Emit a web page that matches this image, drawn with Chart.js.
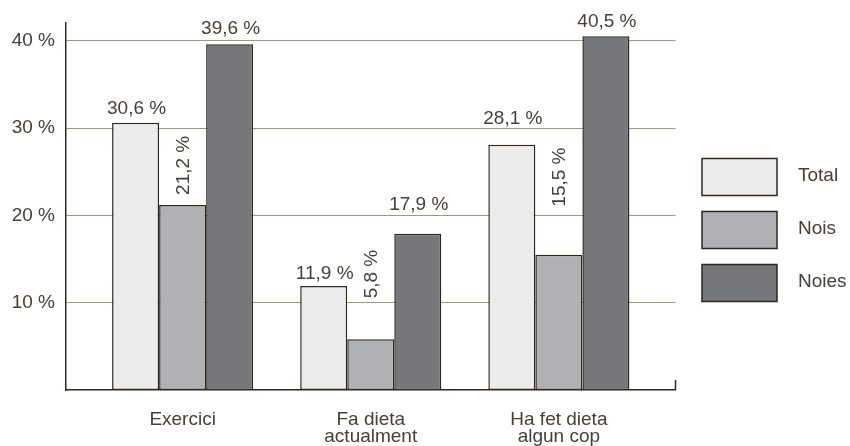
<!DOCTYPE html>
<html>
<head>
<meta charset="utf-8">
<script src="https://cdn.jsdelivr.net/npm/chart.js@4"></script>
<style>
  html, body { margin: 0; padding: 0; background: #fff; }
  #wrap { width: 850px; height: 446px; }
</style>
</head>
<body>
<div id="wrap"><canvas id="myChart" width="850" height="446"></canvas></div>
<script>
var categories = [['Exercici'], ['Fa dieta', 'actualment'], ['Ha fet dieta', 'algun cop']];
var seriesNames = ['Total', 'Nois', 'Noies'];
var total = [30.6, 11.9, 28.1];
var nois = [21.2, 5.8, 15.5];
var noies = [39.6, 17.9, 40.5];
var yTicks = [10, 20, 30, 40];

var color = {
    light: '#ececec',
    mid: '#b0b1b4',
    dark: '#76777a',
    edge: '#2f271d',
    text: '#45403a',
    grid: '#a1977f'
};
var fontFamily = '"Liberation Sans", Arial, sans-serif';

function pct(v) {
    return v.toFixed(1).replace('.', ',') + ' %';
}

function points(values) {
    return values.map(function (v, i) { return { x: i, y: v }; });
}

// value labels above the bars (Nois written vertically), gaps in px
var valueLabels = {
    id: 'valueLabels',
    afterDatasetsDraw: function (chart, args, opts) {
        var ctx = chart.ctx;
        ctx.save();
        ctx.fillStyle = color.text;
        ctx.font = '19px ' + fontFamily;
        chart.data.datasets.forEach(function (ds, di) {
            var meta = chart.getDatasetMeta(di);
            meta.data.forEach(function (bar, i) {
                var text = pct(ds.data[i].y);
                var gap = opts.gaps[di][i];
                if (di === 1) {
                    ctx.save();
                    ctx.translate(bar.x + 1, bar.y - gap);
                    ctx.rotate(-Math.PI / 2);
                    ctx.textAlign = 'left';
                    ctx.textBaseline = 'middle';
                    ctx.fillText(text, 0, 0);
                    ctx.restore();
                } else {
                    ctx.textAlign = 'center';
                    ctx.textBaseline = 'alphabetic';
                    ctx.fillText(text, bar.x + 1, bar.y - gap);
                }
            });
        });
        ctx.restore();
    }
};

// legend boxes on the right + small tick at the right end of the x axis
var sideLegend = {
    id: 'sideLegend',
    afterDraw: function (chart) {
        var ctx = chart.ctx;
        var area = chart.chartArea;
        ctx.save();
        ctx.strokeStyle = color.edge;
        ctx.lineWidth = 1.5;
        ctx.beginPath();
        ctx.moveTo(area.right, area.bottom);
        ctx.lineTo(area.right, area.bottom - 10);
        ctx.stroke();

        ctx.font = '19px ' + fontFamily;
        ctx.textAlign = 'left';
        ctx.textBaseline = 'middle';
        chart.data.datasets.forEach(function (ds, di) {
            var y = 158.5 + di * 53;
            ctx.fillStyle = ds.backgroundColor;
            ctx.fillRect(702, y, 75, 37);
            ctx.strokeRect(702, y, 75, 37);
            ctx.fillStyle = color.text;
            ctx.fillText(ds.label, 798, y + 17);
        });
        ctx.restore();
    }
};

var ctx = document.getElementById('myChart').getContext('2d');
var myChart = new Chart(ctx, {
    type: 'bar',
    data: {
        datasets: [
            { label: seriesNames[0], data: points(total), backgroundColor: color.light },
            { label: seriesNames[1], data: points(nois), backgroundColor: color.mid },
            { label: seriesNames[2], data: points(noies), backgroundColor: color.dark }
        ]
    },
    options: {
        responsive: false,
        animation: false,
        devicePixelRatio: 1,
        layout: { padding: { top: 18, right: 174.5, left: 0, bottom: 0 } },
        datasets: {
            bar: {
                borderColor: color.edge,
                borderWidth: 1.5,
                borderSkipped: false,
                categoryPercentage: 0.75,
                barPercentage: 1
            }
        },
        plugins: {
            legend: { display: false },
            tooltip: { enabled: false },
            valueLabels: {
                gaps: [[9, 7, 21], [10, 41, 48], [10, 24, 9]]
            }
        },
        scales: {
            x: {
                type: 'linear',
                offset: false,
                min: -0.62,
                max: 2.62,
                afterBuildTicks: function (scale) {
                    scale.ticks = categories.map(function (c, i) { return { value: i }; });
                },
                afterFit: function (scale) { scale.height = 56; },
                grid: { display: false, drawTicks: false, offset: false },
                border: { display: true, color: color.edge, width: 1.5 },
                ticks: {
                    autoSkip: false,
                    maxRotation: 0,
                    padding: 21,
                    color: color.text,
                    font: { family: fontFamily, size: 19, lineHeight: 0.92 },
                    callback: function (value) { return categories[value]; }
                }
            },
            y: {
                min: 0,
                max: 42.1,
                afterBuildTicks: function (scale) {
                    scale.ticks = yTicks.map(function (v) { return { value: v }; });
                },
                afterFit: function (scale) { scale.width = 66; },
                grid: { color: color.grid, lineWidth: 1, drawTicks: false },
                border: { display: true, color: color.edge, width: 1.5 },
                ticks: {
                    padding: 11,
                    color: color.text,
                    font: { family: fontFamily, size: 19 },
                    callback: function (value) { return value + ' %'; }
                }
            }
        }
    },
    plugins: [valueLabels, sideLegend]
});
</script>
</body>
</html>
